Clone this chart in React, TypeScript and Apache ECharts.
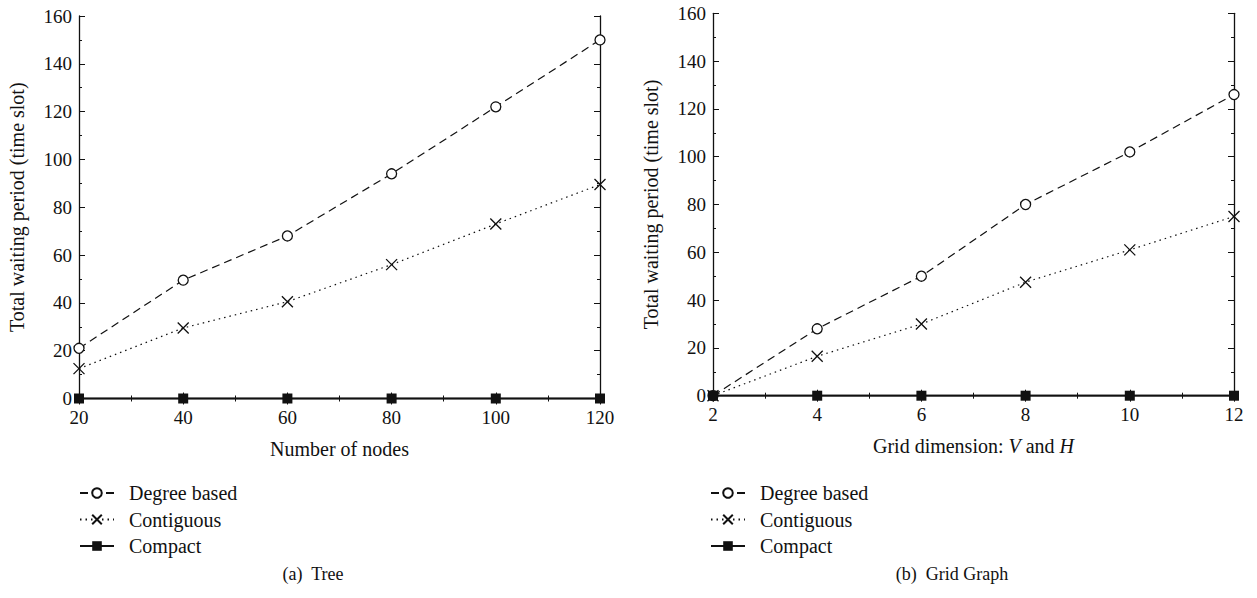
import React, { useEffect, useRef } from "react";
import * as echarts from "echarts";

const seriesNames = ["Degree based", "Contiguous", "Compact"];

const treeX = [20, 40, 60, 80, 100, 120];
const treeDegree = [21, 49.5, 68, 94, 122, 150];
const treeContig = [12.5, 29.5, 40.5, 56, 73, 89.5];
const treeCompact = [0, 0, 0, 0, 0, 0];

const gridX = [2, 4, 6, 8, 10, 12];
const gridDegree = [0, 28, 50, 80, 102, 126];
const gridContig = [0, 16.5, 30, 47.5, 61, 75];
const gridCompact = [0, 0, 0, 0, 0, 0];

const yTicks = { min: 0, max: 160, interval: 20 };
const treeTicks = { min: 20, max: 120, interval: 20 };
const gridTicks = { min: 2, max: 12, interval: 2 };

const FONT = "Liberation Serif";
const INK = "#111";
const FS = 19;
const FS_NAME = 20;

const pairs = (xs: number[], ys: number[]) => xs.map((x, i) => [x, ys[i]]);

const CROSS = "path://M0,0L10,10M10,0L0,10";

function makeX(gridIndex: number, t: any, position: string, name: any, showLabel: boolean) {
  return {
    type: "value",
    gridIndex,
    position,
    min: t.min,
    max: t.max,
    interval: t.interval,
    name: showLabel ? name : "",
    nameLocation: "middle",
    nameGap: 40,
    nameTextStyle: {
      fontFamily: FONT,
      fontSize: FS_NAME,
      color: INK,
      rich: { i: { fontFamily: FONT, fontSize: FS_NAME, fontStyle: "italic", color: INK } },
    },
    axisLine: { show: true, lineStyle: { color: INK, width: 1.3 } },
    axisTick: { show: true, inside: true, length: 6, lineStyle: { color: INK, width: 1 } },
    minorTick: { show: true, splitNumber: 2, length: 3, lineStyle: { color: INK, width: 1 } },
    splitLine: { show: false },
    minorSplitLine: { show: false },
    axisLabel: { show: showLabel, fontFamily: FONT, fontSize: FS, color: INK, margin: 9 },
  };
}

function makeY(gridIndex: number, position: string, showLabel: boolean) {
  return {
    type: "value",
    gridIndex,
    position,
    min: yTicks.min,
    max: yTicks.max,
    interval: yTicks.interval,
    name: showLabel ? "Total waiting period (time slot)" : "",
    nameLocation: "middle",
    nameGap: 52,
    nameTextStyle: { fontFamily: FONT, fontSize: FS_NAME, color: INK },
    axisLine: { show: true, lineStyle: { color: INK, width: 1.3 } },
    axisTick: { show: true, inside: true, length: 6, lineStyle: { color: INK, width: 1 } },
    minorTick: { show: true, splitNumber: 2, length: 3, lineStyle: { color: INK, width: 1 } },
    splitLine: { show: false },
    minorSplitLine: { show: false },
    axisLabel: { show: showLabel, fontFamily: FONT, fontSize: FS, color: INK, margin: 7 },
  };
}

function makeSeries(xi: number, degree: number[], contig: number[], compact: number[], xs: number[]) {
  return [
    {
      name: seriesNames[0],
      type: "line",
      xAxisIndex: xi,
      yAxisIndex: xi,
      data: pairs(xs, degree),
      symbol: "circle",
      symbolSize: 10,
      clip: false,
      color: INK,
      lineStyle: { color: INK, width: 1.2, type: [8, 5] },
      itemStyle: { color: "#fff", borderColor: INK, borderWidth: 1.3 },
      z: 3,
    },
    {
      name: seriesNames[1],
      type: "line",
      xAxisIndex: xi,
      yAxisIndex: xi,
      data: pairs(xs, contig),
      symbol: CROSS,
      symbolSize: 11,
      clip: false,
      color: INK,
      lineStyle: { color: INK, width: 1.2, type: [1.5, 4] },
      itemStyle: { color: "#fff", borderColor: INK, borderWidth: 1.3 },
      z: 3,
    },
    {
      name: seriesNames[2],
      type: "line",
      xAxisIndex: xi,
      yAxisIndex: xi,
      data: pairs(xs, compact),
      symbol: "rect",
      symbolSize: 10,
      clip: false,
      color: INK,
      lineStyle: { color: INK, width: 1.5, type: "solid" },
      itemStyle: { color: INK, borderColor: INK, borderWidth: 0 },
      z: 4,
    },
  ];
}

function makeLegend(left: number) {
  return {
    orient: "vertical",
    left,
    top: 483,
    padding: 0,
    itemWidth: 34,
    itemHeight: 12,
    itemGap: 6.5,
    selectedMode: false,
    data: seriesNames,
    textStyle: { fontFamily: FONT, fontSize: FS_NAME, lineHeight: 20, color: INK, padding: [0, 0, 0, 10] },
  };
}

export default function App() {
  const ref = useRef<HTMLDivElement>(null);
  useEffect(() => {
    if (!ref.current) return;
    const chart = echarts.init(ref.current, null, { renderer: "svg" });
    chart.setOption({
      animation: false,
      backgroundColor: "#fff",
      grid: [
        { left: 79, right: 657, top: 16, bottom: 199.5, containLabel: false },
        { left: 713, right: 23, top: 13.3, bottom: 202.3, containLabel: false },
      ],
      xAxis: [
        makeX(0, treeTicks, "bottom", "Number of nodes", true),
        makeX(0, treeTicks, "top", "", false),
        makeX(1, gridTicks, "bottom", "Grid dimension: {i|V} and {i|H}", true),
        makeX(1, gridTicks, "top", "", false),
      ],
      yAxis: [
        makeY(0, "left", true),
        makeY(0, "right", false),
        makeY(1, "left", true),
        makeY(1, "right", false),
      ],
      legend: [makeLegend(79), makeLegend(710)],
      series: [
        ...makeSeries(0, treeDegree, treeContig, treeCompact, treeX),
        ...makeSeries(2, gridDegree, gridContig, gridCompact, gridX),
      ],
      graphic: [
        {
          type: "text",
          x: 313,
          y: 574,
          style: { text: "(a)  Tree", textAlign: "center", textVerticalAlign: "middle", fontFamily: FONT, fontSize: 18, fill: INK },
        },
        {
          type: "text",
          x: 952,
          y: 574,
          style: { text: "(b)  Grid Graph", textAlign: "center", textVerticalAlign: "middle", fontFamily: FONT, fontSize: 18, fill: INK },
        },
      ],
    });
    return () => chart.dispose();
  }, []);
  return (
    <div
      ref={ref}
      style={{ position: "fixed", left: 0, top: 0, width: 1257, height: 598, background: "#fff" }}
    />
  );
}
